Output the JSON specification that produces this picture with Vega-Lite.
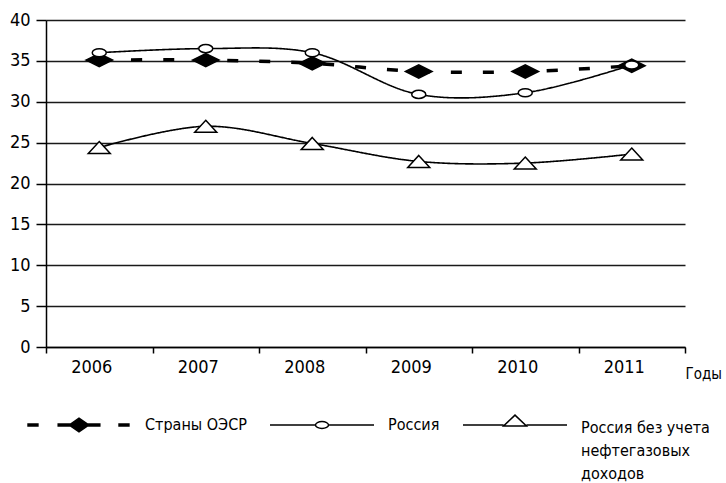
{
  "$schema": "https://vega.github.io/schema/vega-lite/v6.json",
  "autosize": "none",
  "width": 639,
  "height": 327,
  "padding": {"left": 46, "top": 20, "right": 41, "bottom": 136},
  "background": "white",
  "config": {
    "view": {"stroke": null},
    "font": "DejaVu Sans Condensed, Liberation Sans, sans-serif",
    "axis": {"labelFont": "DejaVu Sans Condensed, Liberation Sans, sans-serif", "titleFont": "DejaVu Sans Condensed, Liberation Sans, sans-serif", "labelColor": "black", "titleColor": "black"},
    "legend": {"labelFont": "DejaVu Sans Condensed, Liberation Sans, sans-serif"}
  },
  "data": {
    "values": [
      {"year": "2006", "series": "Страны ОЭСР", "value": 35.1},
      {"year": "2007", "series": "Страны ОЭСР", "value": 35.1},
      {"year": "2008", "series": "Страны ОЭСР", "value": 34.7},
      {"year": "2009", "series": "Страны ОЭСР", "value": 33.7},
      {"year": "2010", "series": "Страны ОЭСР", "value": 33.7},
      {"year": "2011", "series": "Страны ОЭСР", "value": 34.4},
      {"year": "2006", "series": "Россия", "value": 36.0},
      {"year": "2007", "series": "Россия", "value": 36.5},
      {"year": "2008", "series": "Россия", "value": 36.0},
      {"year": "2009", "series": "Россия", "value": 30.9},
      {"year": "2010", "series": "Россия", "value": 31.1},
      {"year": "2011", "series": "Россия", "value": 34.5},
      {"year": "2006", "series": "Россия без учета нефтегазовых доходов", "value": 24.4},
      {"year": "2007", "series": "Россия без учета нефтегазовых доходов", "value": 27.0},
      {"year": "2008", "series": "Россия без учета нефтегазовых доходов", "value": 24.9},
      {"year": "2009", "series": "Россия без учета нефтегазовых доходов", "value": 22.7},
      {"year": "2010", "series": "Россия без учета нефтегазовых доходов", "value": 22.5},
      {"year": "2011", "series": "Россия без учета нефтегазовых доходов", "value": 23.6}
    ]
  },
  "encoding": {
    "x": {
      "field": "year",
      "type": "ordinal",
      "scale": {"type": "band", "paddingInner": 0, "paddingOuter": 0},
      "axis": {
        "title": "Годы",
        "titleFontSize": 15,
        "titleFontWeight": "normal",
        "titleX": 639,
        "titleY": 31,
        "titleAlign": "left",
        "titleBaseline": "alphabetic",
        "labelAngle": 0,
        "labelFontSize": 18,
        "labelPadding": 5,
        "labelOffset": -8,
        "labelBaseline": "top",
        "tickBand": "extent",
        "tickSize": 6,
        "tickColor": "black",
        "tickWidth": 1.5,
        "domainColor": "black",
        "domainWidth": 1.5,
        "grid": false
      }
    },
    "y": {
      "field": "value",
      "type": "quantitative",
      "scale": {"domain": [0, 40], "nice": false},
      "axis": {
        "title": null,
        "values": [0, 5, 10, 15, 20, 25, 30, 35, 40],
        "labelFontSize": 18,
        "labelPadding": 6,
        "tickSize": 10,
        "tickColor": "black",
        "tickWidth": 1.5,
        "domainColor": "black",
        "domainWidth": 1.5,
        "grid": true,
        "gridColor": "#1a1a1a",
        "gridWidth": 1.5
      }
    }
  },
  "layer": [
    {
      "mark": {"type": "line", "interpolate": "catmull-rom", "color": "black"},
      "encoding": {
        "detail": {"field": "series"},
        "strokeDash": {
          "condition": {"test": "datum.series == 'Страны ОЭСР'", "value": [11, 21]},
          "value": [1, 0]
        },
        "strokeWidth": {
          "condition": {"test": "datum.series == 'Страны ОЭСР'", "value": 3.5},
          "value": 1.6
        }
      }
    },
    {
      "mark": {"type": "point", "filled": true, "stroke": "black", "strokeWidth": 1.5, "size": 784, "opacity": 1},
      "encoding": {
        "fill": {
          "condition": {"test": "datum.series == 'Страны ОЭСР'", "value": "black"},
          "value": "white"
        },
        "shape": {
          "condition": [
            {"test": "datum.series == 'Страны ОЭСР'", "value": "M-0.95,0L0,-0.47L0.95,0L0,0.47Z"},
            {"test": "datum.series == 'Россия'", "value": "M-0.5,0C-0.5,-0.16,-0.276,-0.29,0,-0.29C0.276,-0.29,0.5,-0.16,0.5,0C0.5,0.16,0.276,0.29,0,0.29C-0.276,0.29,-0.5,0.16,-0.5,0Z"}
          ],
          "value": "M0,-0.43L0.786,0.43L-0.786,0.43Z"
        }
      }
    },
    {
      "mark": {"type": "point", "filled": true, "opacity": 0, "size": 10816},
      "encoding": {
        "shape": {
          "field": "series",
          "scale": {
            "domain": ["Страны ОЭСР", "Россия", "Россия без учета нефтегазовых доходов"],
            "range": [
              "M0,-1.25h0.001M0,1.25h0.001M-0.98,-0.02H-0.79V0.02H-0.98Z M-0.4,-0.02H0.4V0.02H-0.4Z M-0.19,0L0,-0.13L0.19,0L0,0.13Z M0.77,-0.02H0.96V0.02H0.77Z",
              "M0,-1.25h0.001M0,1.25h0.001M-1,0H-0.125M0.125,0H1M-0.125,0C-0.125,-0.037,-0.069,-0.067,0,-0.067C0.069,-0.067,0.125,-0.037,0.125,0C0.125,0.037,0.069,0.067,0,0.067C-0.069,0.067,-0.125,0.037,-0.125,0Z",
              "M0,-1.25h0.001M0,1.25h0.001M-1,0H-0.22M0.22,0H1M0,-0.19L0.22,0.02L-0.22,0.02Z"
            ]
          },
          "legend": {
            "title": null,
            "orient": "none",
            "legendX": -20,
            "legendY": 352,
            "direction": "horizontal",
            "padding": 0,
            "symbolSize": 10816,
            "symbolStrokeWidth": 1.5,
            "labelFontSize": 16,
            "labelColor": "black",
            "labelOffset": 13,
            "labelLimit": 0,
            "columnPadding": 20,
            "labelExpr": "datum.label == 'Россия без учета нефтегазовых доходов' ? ['Россия без учета', 'нефтегазовых', 'доходов'] : datum.label",
            "encoding": {
              "symbols": {
                "fill": {"value": {"expr": "datum.value == 'Страны ОЭСР' ? 'black' : 'white'"}},
                "stroke": {"value": "black"},
                "strokeWidth": {"value": 1.5},
                "opacity": {"value": 1},
                "size": {"value": 10816}
              },
              "labels": {
                "lineHeight": {"value": 23},
                "dy": {"value": {"expr": "datum.value == 'Россия без учета нефтегазовых доходов' ? 3 : 0"}}
              }
            }
          }
        }
      }
    }
  ]
}
